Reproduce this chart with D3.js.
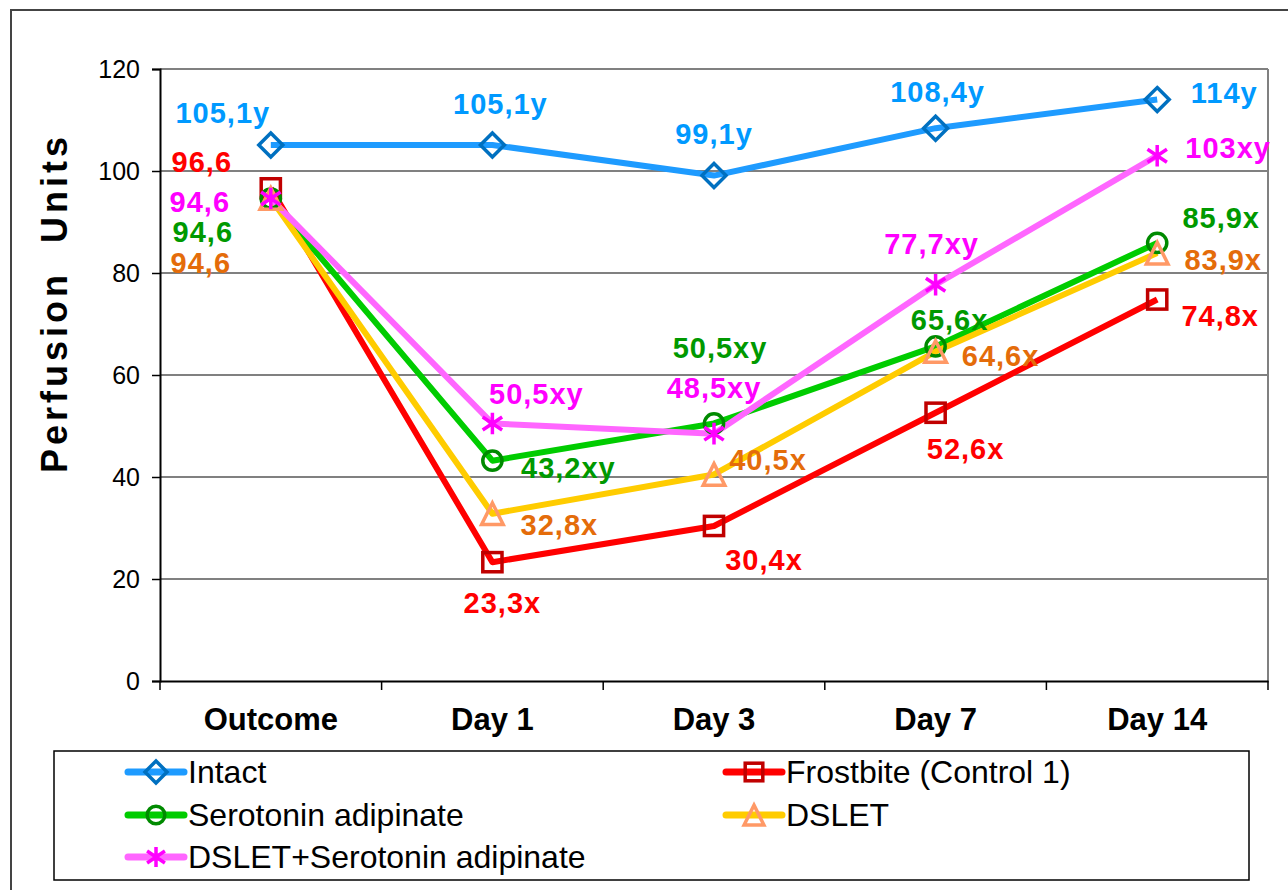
<!DOCTYPE html>
<html>
<head>
<meta charset="utf-8">
<script src="https://cdn.jsdelivr.net/npm/d3@7"></script>
<style>
  body { margin: 0; background: #fff; }
  svg { display: block; font-family: "Liberation Sans", Arial, sans-serif; }
</style>
</head>
<body>
<div id="chart"></div>
<script>
// categories and series
const categories = ["Outcome", "Day 1", "Day 3", "Day 7", "Day 14"];
const yTicks = [0, 20, 40, 60, 80, 100, 120];

const intact     = [105.1, 105.1, 99.1, 108.4, 114];
const frostbite  = [96.6, 23.3, 30.4, 52.6, 74.8];
const serotonin  = [94.6, 43.2, 50.5, 65.6, 85.9];
const dslet      = [94.6, 32.8, 40.5, 64.6, 83.9];
const dsletSer   = [94.6, 50.5, 48.5, 77.7, 103];

const intactLabels    = ["105,1y", "105,1y", "99,1y", "108,4y", "114y"];
const frostbiteLabels = ["96,6", "23,3x", "30,4x", "52,6x", "74,8x"];
const serotoninLabels = ["94,6", "43,2xy", "50,5xy", "65,6x", "85,9x"];
const dsletLabels     = ["94,6", "32,8x", "40,5x", "64,6x", "83,9x"];
const dsletSerLabels  = ["94,6", "50,5xy", "48,5xy", "77,7xy", "103xy"];

// label offsets from the marker (placement only)
const offIntact    = [[-48, -32], [8, -41], [0, -42], [2, -36], [67, -7]];
const offFrostbite = [[-69, -26], [10, 41], [50, 34], [30, 36], [63, 16]];
const offSerotonin = [[-68, 33], [76, 7], [6, -75], [14, -26], [64, -25]];
const offDslet     = [[-70, 64], [67, 11], [54, -14], [65, 4], [66, 7]];
const offDsletSer  = [[-71, 3], [44, -29], [0, -46], [-4, -41], [71, -8]];

const series = [
  {name: "Intact", values: intact, labels: intactLabels, off: offIntact,
   line: "#1e9bff", mark: "#0070c0", text: "#0099ff", shape: "diamond"},
  {name: "Frostbite (Control 1)", values: frostbite, labels: frostbiteLabels, off: offFrostbite,
   line: "#ff0000", mark: "#c00000", text: "#ff0000", shape: "square"},
  {name: "Serotonin adipinate", values: serotonin, labels: serotoninLabels, off: offSerotonin,
   line: "#00cc00", mark: "#008a00", text: "#009900", shape: "circle"},
  {name: "DSLET", values: dslet, labels: dsletLabels, off: offDslet,
   line: "#ffcc00", mark: "#ff9966", text: "#e46c0a", shape: "triangle"},
  {name: "DSLET+Serotonin adipinate", values: dsletSer, labels: dsletSerLabels, off: offDsletSer,
   line: "#ff66ff", mark: "#ff00ff", text: "#ff00ff", shape: "star"},
];

const width = 1288, height = 890;
const margin = {top: 69, right: 20, bottom: 209, left: 160};

const x = d3.scaleBand(categories, [margin.left, 1268]).padding(0);
const y = d3.scaleLinear([0, 120], [height - margin.bottom, margin.top]);

const svg = d3.select("#chart").append("svg")
    .attr("width", width)
    .attr("height", height)
    .attr("viewBox", [0, 0, width, height]);

// outer chart frame (runs off the page at right and bottom)
svg.append("rect")
    .attr("x", 11).attr("y", 10)
    .attr("width", 1300).attr("height", 900)
    .attr("fill", "none")
    .attr("stroke", "#444")
    .attr("stroke-width", 2);

// gridlines
svg.append("g")
  .selectAll("line")
  .data(yTicks.filter(d => d > 0))
  .join("line")
    .attr("x1", margin.left).attr("x2", 1268)
    .attr("y1", d => y(d)).attr("y2", d => y(d))
    .attr("stroke", "#808080")
    .attr("stroke-width", 2);

// right edge of plot area
svg.append("line")
    .attr("x1", 1268).attr("x2", 1268)
    .attr("y1", y(120)).attr("y2", y(0))
    .attr("stroke", "#808080")
    .attr("stroke-width", 2);

// y axis
svg.append("g")
    .attr("transform", `translate(${margin.left},0)`)
    .call(d3.axisLeft(y).tickValues(yTicks).tickSize(8).tickPadding(12).tickFormat(d3.format("d")))
    .call(g => g.select(".domain").attr("stroke", "#000").attr("stroke-width", 2))
    .call(g => g.selectAll(".tick line").attr("stroke", "#000").attr("stroke-width", 1.5))
    .call(g => g.selectAll(".tick text")
        .attr("font-size", 25)
        .attr("font-family", "Liberation Sans, Arial, sans-serif")
        .attr("fill", "#000"));

// x axis: labels centred, ticks on band edges
const xAxisG = svg.append("g")
    .attr("transform", `translate(0,${y(0)})`)
    .call(d3.axisBottom(x).tickSize(0).tickPadding(27))
    .call(g => g.select(".domain").attr("stroke", "#000").attr("stroke-width", 2))
    .call(g => g.selectAll(".tick text")
        .attr("font-size", 31)
        .attr("font-weight", "bold")
        .attr("font-family", "Liberation Sans, Arial, sans-serif")
        .attr("fill", "#000"));

xAxisG.selectAll(".edge")
  .data(categories.concat([null]))
  .join("line")
    .attr("class", "edge")
    .attr("x1", d => d === null ? x.range()[1] : x(d))
    .attr("x2", d => d === null ? x.range()[1] : x(d))
    .attr("y1", 0).attr("y2", 9)
    .attr("stroke", "#000")
    .attr("stroke-width", 1.5);

// y axis title
svg.append("text")
    .attr("transform", `translate(67,303) rotate(-90)`)
    .attr("text-anchor", "middle")
    .attr("font-size", 36)
    .attr("font-weight", "bold")
    .attr("letter-spacing", 4)
    .attr("fill", "#000")
    .attr("xml:space", "preserve")
    .text("Perfusion  Units");

// marker builder
function marker(g, shape, color, size) {
  const s = size;
  if (shape === "diamond") {
    g.append("path").attr("d", `M0,${-s/2}L${s/2},0L0,${s/2}L${-s/2},0Z`)
      .attr("fill", "none").attr("stroke", color).attr("stroke-width", 3.5);
  } else if (shape === "square") {
    const h = s * 0.4;
    g.append("rect").attr("x", -h).attr("y", -h).attr("width", 2*h).attr("height", 2*h)
      .attr("fill", "none").attr("stroke", color).attr("stroke-width", 3.5);
  } else if (shape === "circle") {
    g.append("circle").attr("r", s * 0.4)
      .attr("fill", "none").attr("stroke", color).attr("stroke-width", 3.5);
  } else if (shape === "triangle") {
    const h = s * 0.45;
    g.append("path").attr("d", `M0,${-h}L${h},${h}L${-h},${h}Z`)
      .attr("fill", "none").attr("stroke", color).attr("stroke-width", 3.5)
      .attr("stroke-linejoin", "miter");
  } else if (shape === "star") {
    const h = s * 0.45;
    g.append("path").attr("d", `M0,${-h}V${h}M${-h*0.9},${-h*0.6}L${h*0.9},${h*0.6}M${-h*0.9},${h*0.6}L${h*0.9},${-h*0.6}`)
      .attr("fill", "none").attr("stroke", color).attr("stroke-width", 3.5);
  }
}

const cx = c => x(c) + x.bandwidth() / 2;

const line = d3.line()
    .x((d, i) => cx(categories[i]))
    .y(d => y(d));

// lines
svg.append("g")
  .selectAll("path")
  .data(series)
  .join("path")
    .attr("d", s => line(s.values))
    .attr("fill", "none")
    .attr("stroke", s => s.line)
    .attr("stroke-width", 6)
    .attr("stroke-linejoin", "round");

// markers
series.forEach(s => {
  s.values.forEach((v, i) => {
    const g = svg.append("g").attr("transform", `translate(${cx(categories[i])},${y(v)})`);
    marker(g, s.shape, s.mark, 24);
  });
});

// value labels
series.forEach(s => {
  svg.append("g")
    .selectAll("text")
    .data(s.values)
    .join("text")
      .attr("x", (v, i) => cx(categories[i]) + s.off[i][0])
      .attr("y", (v, i) => y(v) + s.off[i][1])
      .attr("text-anchor", "middle")
      .attr("dominant-baseline", "central")
      .attr("font-size", 29)
      .attr("letter-spacing", 1)
      .attr("font-weight", "bold")
      .attr("fill", s.text)
      .text((v, i) => s.labels[i]);
});

// legend
svg.append("rect")
    .attr("x", 54).attr("y", 751)
    .attr("width", 1195).attr("height", 129)
    .attr("fill", "#fff")
    .attr("stroke", "#000")
    .attr("stroke-width", 1.5);

const legendPos = [[128, 772], [726, 772], [128, 815], [726, 815], [128, 857]];

series.forEach((s, i) => {
  const [lx, ly] = legendPos[i];
  const g = svg.append("g").attr("transform", `translate(${lx},${ly})`);
  g.append("line").attr("x1", 0).attr("x2", 56).attr("y1", 0).attr("y2", 0)
    .attr("stroke", s.line).attr("stroke-width", 7).attr("stroke-linecap", "round");
  const m = g.append("g").attr("transform", "translate(28,0)");
  marker(m, s.shape, s.mark, 22);
  g.append("text")
    .attr("x", 60).attr("y", 0)
    .attr("dominant-baseline", "central")
    .attr("font-size", 32)
    .attr("fill", "#000")
    .text(s.name);
});
</script>
</body>
</html>
